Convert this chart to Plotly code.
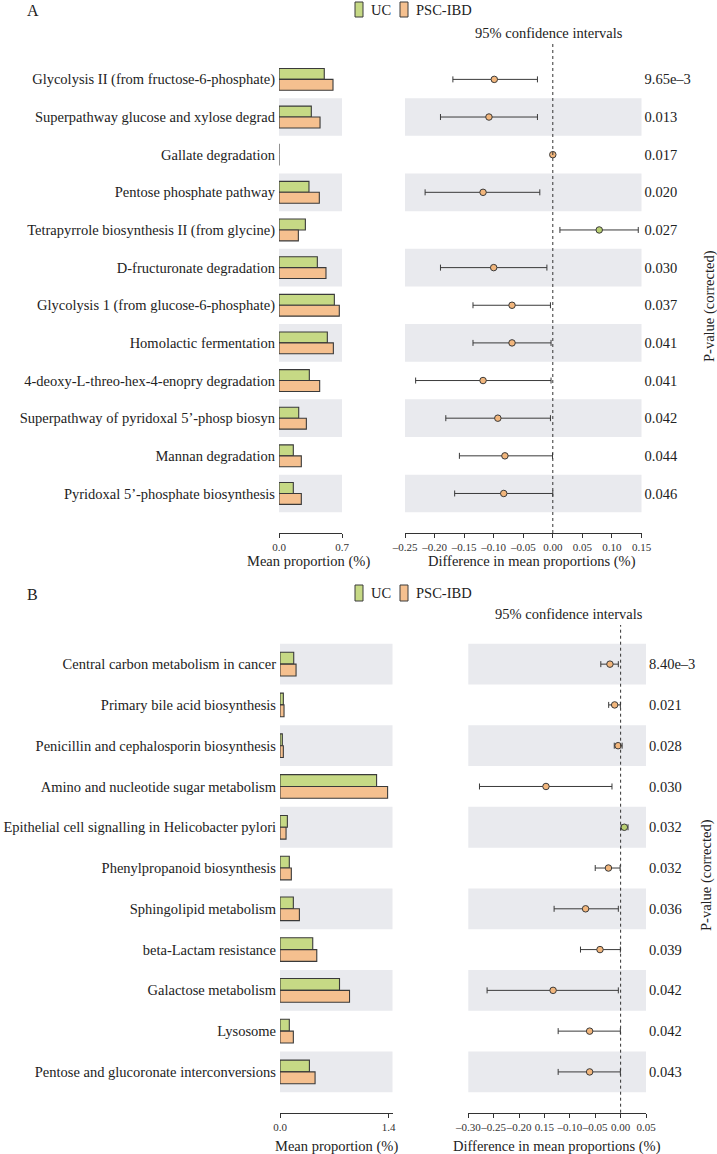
import plotly.graph_objects as go

W, H = 717, 1154
FONT = "Liberation Serif"
GREEN = "#c6d985"
ORANGE = "#f5c08f"
PT_GREEN = "#b9cf72"
PT_ORANGE = "#f2b67c"
BAND = "#e9eaee"
DARK = "#333333"

# ---------------- Panel A data ----------------
a_names = [
    "Glycolysis II (from fructose-6-phosphate)",
    "Superpathway glucose and xylose degrad",
    "Gallate degradation",
    "Pentose phosphate pathway",
    "Tetrapyrrole biosynthesis II (from glycine)",
    "D-fructuronate degradation",
    "Glycolysis 1 (from glucose-6-phosphate)",
    "Homolactic fermentation",
    "4-deoxy-L-threo-hex-4-enopry degradation",
    "Superpathway of pyridoxal 5\u2019-phosp biosyn",
    "Mannan degradation",
    "Pyridoxal 5\u2019-phosphate biosynthesis",
]
a_uc = [0.503, 0.359, 0.0, 0.333, 0.293, 0.426, 0.615, 0.537, 0.337, 0.219, 0.159, 0.159]
a_psc = [0.600, 0.456, 0.0, 0.448, 0.215, 0.522, 0.670, 0.604, 0.452, 0.304, 0.248, 0.248]
a_diff = [-0.099, -0.108, 0.0, -0.118, 0.0785, -0.100, -0.069, -0.069, -0.118, -0.093, -0.081, -0.083]
a_low = [-0.169, -0.190, 0.0, -0.216, 0.012, -0.190, -0.135, -0.135, -0.232, -0.181, -0.158, -0.166]
a_high = [-0.026, -0.026, 0.0, -0.022, 0.1445, -0.010, -0.004, -0.003, -0.003, -0.004, -0.0005, 0.0]
a_p = ["9.65e\u20133", "0.013", "0.017", "0.020", "0.027", "0.030", "0.037",
       "0.041", "0.041", "0.042", "0.044", "0.046"]

# ---------------- Panel B data ----------------
b_names = [
    "Central carbon metabolism in cancer",
    "Primary bile acid biosynthesis",
    "Penicillin and cephalosporin biosynthesis",
    "Amino and nucleotide sugar metabolism",
    "Epithelial cell signalling in Helicobacter pylori",
    "Phenylpropanoid biosynthesis",
    "Sphingolipid metabolism",
    "beta-Lactam resistance",
    "Galactose metabolism",
    "Lysosome",
    "Pentose and glucoronate interconversions",
]
b_uc = [0.177, 0.043, 0.030, 1.245, 0.095, 0.120, 0.172, 0.422, 0.767, 0.120, 0.379]
b_psc = [0.207, 0.052, 0.043, 1.387, 0.078, 0.146, 0.250, 0.474, 0.896, 0.172, 0.452]
b_diff = [-0.021, -0.0117, -0.005, -0.147, 0.0073, -0.024, -0.069, -0.0406, -0.133, -0.061, -0.061]
b_low = [-0.039, -0.0235, -0.0125, -0.278, 0.001, -0.050, -0.131, -0.079, -0.263, -0.123, -0.123]
b_high = [-0.0045, -0.0005, 0.003, -0.017, 0.0146, -0.001, -0.0045, -0.0005, -0.0045, -0.0005, -0.0005]
b_p = ["8.40e\u20133", "0.021", "0.028", "0.030", "0.032", "0.032", "0.036",
       "0.039", "0.042", "0.042", "0.043"]

a_bar_ticks = [0, 0.7]
a_bar_ticktext = ["0.0", "0.7"]
a_ci_ticks = [-0.25, -0.20, -0.15, -0.10, -0.05, 0.0, 0.05, 0.10, 0.15]
a_ci_ticktext = ["\u20130.25", "\u20130.20", "\u20130.15", "\u20130.10", "\u20130.05",
                 "0.00", "0.05", "0.10", "0.15"]
b_bar_ticks = [0, 1.4]
b_bar_ticktext = ["0.0", "1.4"]
b_ci_ticks = [-0.30, -0.25, -0.20, -0.15, -0.10, -0.05, 0.0, 0.05]
b_ci_ticktext = ["\u20130.30", "\u20130.25", "\u20130.20", "0.15", "\u20130.10",
                 "\u20130.05", "0.00", "0.05"]


def px(p):
    return p / W


def py(p):
    return 1 - p / H


fig = go.Figure()


def add_panel(names, uc, psc, diff, low, high, xa_bar, ya_bar, xa_ci, ya_ci, shade_parity):
    n = len(names)
    rows = list(range(n))
    fig.add_trace(go.Bar(
        y=rows, x=uc, orientation="h", name="UC", width=0.29, offset=-0.29,
        marker=dict(color=GREEN, line=dict(color="#3a3a3a", width=1.1)),
        xaxis=xa_bar, yaxis=ya_bar, showlegend=False))
    fig.add_trace(go.Bar(
        y=rows, x=psc, orientation="h", name="PSC-IBD", width=0.29, offset=0.0,
        marker=dict(color=ORANGE, line=dict(color="#3a3a3a", width=1.1)),
        xaxis=xa_bar, yaxis=ya_bar, showlegend=False))
    plus = [h - d for h, d in zip(high, diff)]
    minus = [d - l for d, l in zip(diff, low)]
    colors = [PT_GREEN if d > 0 else PT_ORANGE for d in diff]
    fig.add_trace(go.Scatter(
        x=diff, y=rows, mode="markers",
        marker=dict(size=6.5, color=colors, line=dict(color="#3a3a3a", width=1)),
        error_x=dict(type="data", symmetric=False, array=plus, arrayminus=minus,
                     color="#3a3a3a", thickness=1, width=3),
        xaxis=xa_ci, yaxis=ya_ci, showlegend=False))
    for i in rows:
        if i % 2 == shade_parity:
            for xr, yr in ((xa_bar, ya_bar), (xa_ci, ya_ci)):
                fig.add_shape(type="rect", xref=xr + " domain", yref=yr,
                              x0=0, x1=1, y0=i - 0.5, y1=i + 0.5,
                              fillcolor=BAND, line=dict(width=0), layer="below")
    fig.add_shape(type="line", xref=xa_ci, yref=ya_ci + " domain",
                  x0=0, x1=0, y0=0, y1=1,
                  line=dict(color=DARK, width=1, dash="3px,3px"))


add_panel(a_names, a_uc, a_psc, a_diff, a_low, a_high, "x", "y", "x2", "y2", 1)
add_panel(b_names, b_uc, b_psc, b_diff, b_low, b_high, "x3", "y3", "x4", "y4", 0)

tickfont = dict(family=FONT, size=11, color=DARK)
labfont = dict(family=FONT, size=14.5, color="#222222")

xcommon = dict(showline=True, linecolor=DARK, linewidth=1, ticks="outside",
               ticklen=4, tickcolor=DARK, showgrid=False, zeroline=False,
               tickfont=tickfont, tickangle=0, fixedrange=True, automargin=False)
ycommon = dict(showline=False, showgrid=False, zeroline=False, ticks="",
               tickfont=labfont, fixedrange=True, automargin=False)

a_dom = [py(533), py(44)]
b_dom = [py(1112.7), py(625)]

fig.update_layout(
    width=W, height=H, margin=dict(l=0, r=0, t=0, b=0),
    paper_bgcolor="white", plot_bgcolor="white", barmode="overlay",
    font=dict(family=FONT, color="#222222"),
    xaxis=dict(domain=[px(279), px(342)], range=[0, 0.7], anchor="y",
               tickvals=a_bar_ticks, ticktext=a_bar_ticktext, **xcommon),
    yaxis=dict(domain=a_dom, range=[12.05, -0.94], anchor="x",
               tickvals=list(range(len(a_names))), ticktext=a_names,
               ticklabelstandoff=3, **ycommon),
    xaxis2=dict(domain=[px(405), px(641.5)], range=[-0.25, 0.15], anchor="y2",
                tickvals=a_ci_ticks, ticktext=a_ci_ticktext, **xcommon),
    yaxis2=dict(domain=a_dom, range=[12.05, -0.94], anchor="x2", side="right",
                tickvals=list(range(len(a_p))), ticktext=a_p,
                ticklabelstandoff=2, **ycommon),
    xaxis3=dict(domain=[px(280), px(392.5)], range=[0, 1.45], anchor="y3",
                tickvals=b_bar_ticks, ticktext=b_bar_ticktext, **xcommon),
    yaxis3=dict(domain=b_dom, range=[11.0, -0.96], anchor="x3",
                tickvals=list(range(len(b_names))), ticktext=b_names,
                ticklabelstandoff=3, **ycommon),
    xaxis4=dict(domain=[px(468.3), px(646)], range=[-0.30, 0.05], anchor="y4",
                tickvals=b_ci_ticks, ticktext=b_ci_ticktext, **xcommon),
    yaxis4=dict(domain=b_dom, range=[11.0, -0.96], anchor="x4", side="right",
                tickvals=list(range(len(b_p))), ticktext=b_p,
                ticklabelstandoff=2, **ycommon),
)

ann = []


def text(t, x, y, size=14.5, xanchor="center", angle=0):
    ann.append(dict(text=t, x=px(x), y=py(y), xref="paper", yref="paper",
                    xanchor=xanchor, yanchor="middle", showarrow=False,
                    textangle=angle, font=dict(family=FONT, size=size, color="#222222")))


# panel letters
text("A", 33, 10, size=16)
text("B", 32, 594, size=16)
# legends
for ytop, ybot, yc in ((2, 17, 10), (585, 601, 593)):
    fig.add_shape(type="rect", xref="paper", yref="paper", x0=px(355), x1=px(363),
                  y0=py(ybot), y1=py(ytop), fillcolor=GREEN, line=dict(color="#3a3a3a", width=1))
    fig.add_shape(type="rect", xref="paper", yref="paper", x0=px(400), x1=px(408),
                  y0=py(ybot), y1=py(ytop), fillcolor=ORANGE, line=dict(color="#3a3a3a", width=1))
    text("UC", 369, yc, size=14.5, xanchor="left")
    text("PSC-IBD", 414, yc, size=14.5, xanchor="left")

text("95% confidence intervals", 549, 33)
text("95% confidence intervals", 569, 614)
text("Mean proportion (%)", 308, 561)
text("Difference in mean proportions (%)", 532, 561)
text("Mean proportion (%)", 336, 1146)
text("Difference in mean proportions (%)", 557, 1146)
text("P-value (corrected)", 709, 306, angle=-90)
text("P-value (corrected)", 706, 875, angle=-90)

fig.update_layout(annotations=ann)
fig.write_html("out.html", config={"displayModeBar": False},
               post_script="document.body.style.margin='0';")
